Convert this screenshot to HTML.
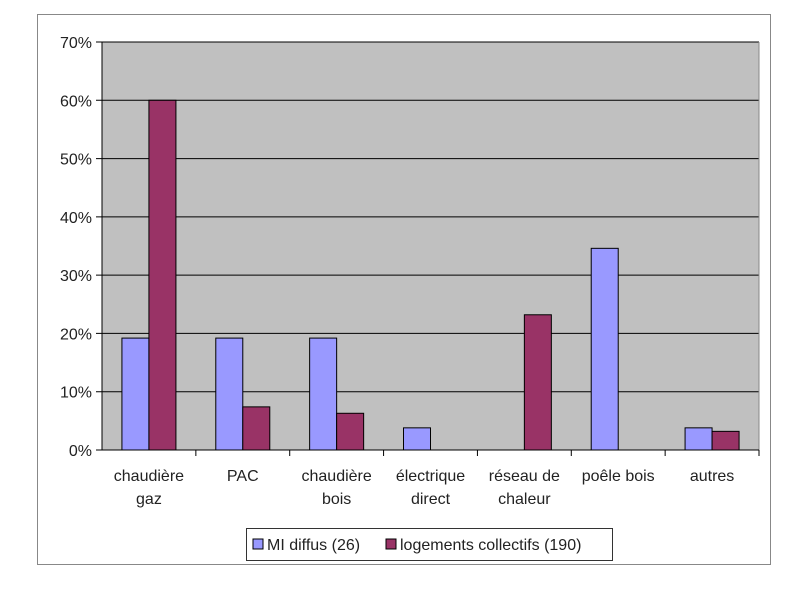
<!DOCTYPE html>
<html><head><meta charset="utf-8"><style>
body{margin:0;background:#fff;}
svg text{font-family:"Liberation Sans",sans-serif;fill:#222;}
</style></head><body>
<svg width="800" height="586" xmlns="http://www.w3.org/2000/svg">
<rect x="37.5" y="14.5" width="733" height="550" fill="#fff" stroke="#888"/>
<rect x="102" y="42" width="657" height="408" fill="#c0c0c0"/>
<g id="grid"></g><g id="bars"></g><g id="axes"></g>
<g>
<rect x="246.5" y="528.5" width="366" height="32" fill="#fff" stroke="#333"/>
<rect x="253" y="539" width="10" height="10" fill="#9999ff" stroke="#000"/>
<text x="267" y="550" font-size="16">MI diffus (26)</text>
<rect x="386" y="539" width="10" height="10" fill="#993366" stroke="#000"/>
<text x="400" y="550" font-size="16">logements collectifs (190)</text>
</g>
</svg>
<script>
const categories=[["chaudière","gaz"],["PAC"],["chaudière","bois"],["électrique","direct"],["réseau de","chaleur"],["poêle bois"],["autres"]];
const miValues=[19.2,19.2,19.2,3.8,0,34.6,3.8];
const collValues=[60,7.4,6.3,0,23.2,0,3.2];
const yTicks=[0,10,20,30,40,50,60,70];
const NS="http://www.w3.org/2000/svg";
const L=102,R=759,T=42,B=450,maxV=70;
const y=v=>B-(v/maxV)*(B-T);
const bw=(R-L)/categories.length;
const x=i=>L+i*bw;
function mk(tag,attrs,parent,txt){const e=document.createElementNS(NS,tag);for(const k in attrs)e.setAttribute(k,attrs[k]);if(txt!==undefined)e.textContent=txt;parent.appendChild(e);return e;}
const grid=document.getElementById('grid'),bars=document.getElementById('bars'),axes=document.getElementById('axes');
yTicks.forEach(t=>{
  const g=mk('line',{x1:L-6,x2:R,y1:y(t),y2:y(t),stroke:'#000','stroke-width':1},grid);
  
  
  const tx=mk('text',{x:L-10,y:y(t)+6,'text-anchor':'end','font-size':16},axes,t+'%');
  
  
});
mk('line',{x1:L,x2:L,y1:T,y2:B,stroke:'#000'},axes);
mk('line',{x1:R,x2:R,y1:T,y2:B,stroke:'#888'},axes);
const barW=27,off=(bw-2*barW)/2;
categories.forEach((c,i)=>{
  const tk=mk('line',{x1:x(i+1),x2:x(i+1),y1:B,y2:B+6,stroke:'#000'},axes);
  c.forEach((ln,j)=>{
    const t=mk('text',{x:x(i)+bw/2,y:B+31+j*23,'text-anchor':'middle','font-size':16},axes,ln);
    
    
  });
  if(miValues[i]>0){
    const r=mk('rect',{x:x(i)+off,y:y(miValues[i]),width:barW,height:B-y(miValues[i]),fill:'#9999ff',stroke:'#000','stroke-width':1},bars);
    
    
  }
  if(collValues[i]>0){
    const r=mk('rect',{x:x(i)+off+barW,y:y(collValues[i]),width:barW,height:B-y(collValues[i]),fill:'#993366',stroke:'#000','stroke-width':1},bars);
    
    
  }
});
mk('line',{x1:L,x2:R,y1:B,y2:B,stroke:'#000'},axes);
</script>
</body></html>
